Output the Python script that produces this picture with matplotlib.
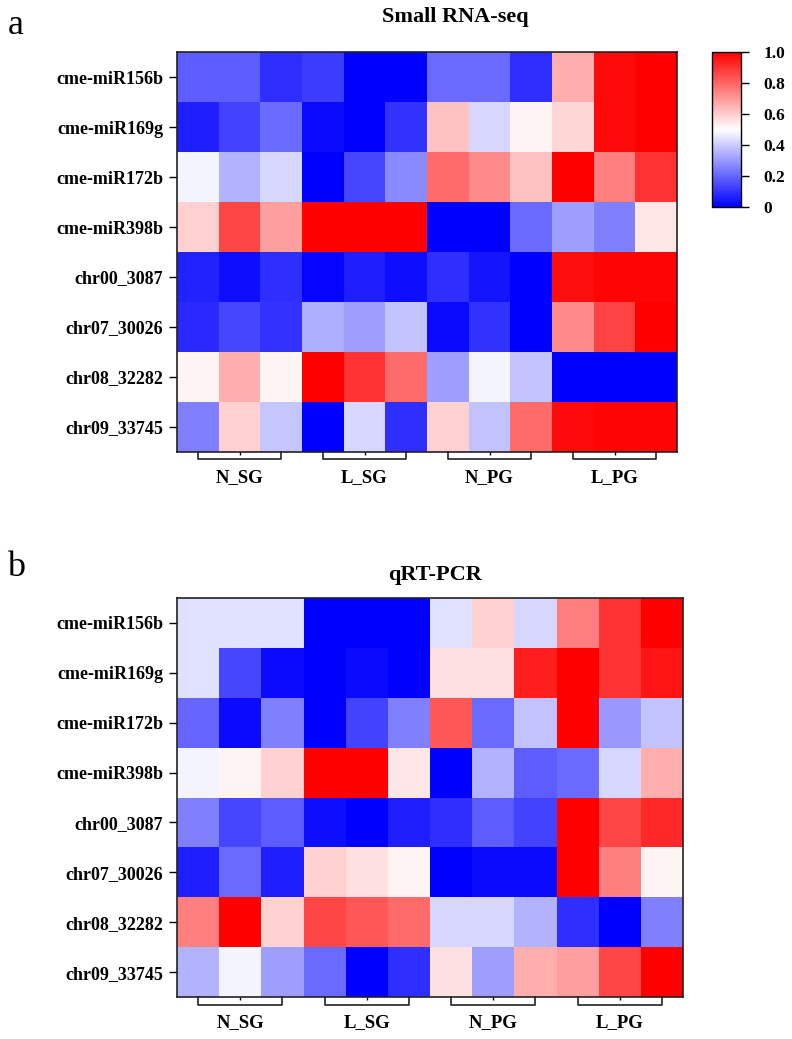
import numpy as np
import matplotlib.pyplot as plt
from matplotlib.colors import LinearSegmentedColormap

plt.rcParams['font.family'] = ['Liberation Serif', 'DejaVu Serif']

genes = ["cme-miR156b", "cme-miR169g", "cme-miR172b", "cme-miR398b",
         "chr00_3087", "chr07_30026", "chr08_32282", "chr09_33745"]
groups = ["N_SG", "L_SG", "N_PG", "L_PG"]

# relative expression, 12 samples (3 per group)
seq_vals = np.array([
    [0.18, 0.18, 0.09, 0.12, 0.00, 0.00, 0.21, 0.21, 0.09, 0.66, 0.98, 1.00],
    [0.06, 0.13, 0.21, 0.02, 0.00, 0.10, 0.62, 0.42, 0.52, 0.58, 0.98, 1.00],
    [0.48, 0.35, 0.42, 0.00, 0.14, 0.27, 0.79, 0.73, 0.62, 1.00, 0.75, 0.90],
    [0.59, 0.86, 0.69, 1.00, 1.00, 1.00, 0.00, 0.00, 0.21, 0.31, 0.25, 0.55],
    [0.07, 0.03, 0.09, 0.01, 0.06, 0.03, 0.09, 0.04, 0.00, 0.97, 0.99, 0.99],
    [0.08, 0.14, 0.10, 0.34, 0.31, 0.38, 0.02, 0.10, 0.00, 0.73, 0.87, 1.00],
    [0.52, 0.66, 0.52, 1.00, 0.90, 0.79, 0.31, 0.48, 0.38, 0.00, 0.00, 0.00],
    [0.25, 0.59, 0.39, 0.00, 0.42, 0.09, 0.59, 0.38, 0.79, 0.98, 0.99, 0.99],
])

pcr_vals = np.array([
    [0.44, 0.44, 0.44, 0.00, 0.00, 0.00, 0.44, 0.59, 0.42, 0.75, 0.90, 1.00],
    [0.44, 0.14, 0.02, 0.00, 0.02, 0.00, 0.56, 0.56, 0.94, 1.00, 0.90, 0.96],
    [0.20, 0.02, 0.25, 0.00, 0.13, 0.25, 0.83, 0.21, 0.38, 1.00, 0.30, 0.38],
    [0.48, 0.52, 0.59, 1.00, 1.00, 0.55, 0.00, 0.35, 0.18, 0.21, 0.42, 0.66],
    [0.25, 0.14, 0.18, 0.03, 0.00, 0.06, 0.09, 0.18, 0.13, 1.00, 0.86, 0.92],
    [0.06, 0.21, 0.06, 0.59, 0.56, 0.52, 0.00, 0.02, 0.02, 1.00, 0.75, 0.52],
    [0.75, 1.00, 0.59, 0.86, 0.83, 0.79, 0.42, 0.42, 0.35, 0.09, 0.00, 0.25],
    [0.35, 0.48, 0.31, 0.21, 0.00, 0.09, 0.56, 0.31, 0.66, 0.69, 0.86, 1.00],
])

cmap = LinearSegmentedColormap.from_list("bwr_", ["#0000ff", "#ffffff", "#ff0000"])

W, H = 792, 1039
fig = plt.figure(figsize=(W / 100, H / 100), dpi=100)


def px_axes(x0, y0, x1, y1):
    return fig.add_axes([x0 / W, 1 - y1 / H, (x1 - x0) / W, (y1 - y0) / H])


def ftext(x, y, s, **kw):
    fig.text(x / W, 1 - y / H, s, ha='center', va='center', **kw)


def draw_heatmap(ax, vals, bracket_depth, label_off):
    mesh = ax.pcolormesh(vals, cmap=cmap, vmin=0, vmax=1)
    nrow, ncol = vals.shape
    ax.set_xlim(0, ncol)
    ax.set_ylim(nrow, 0)
    ax.set_yticks(np.arange(nrow) + 0.5)
    ax.set_yticklabels(genes, fontsize=13, fontweight='bold')
    ax.tick_params(axis='y', length=6, width=1, pad=4)
    ax.set_xticks([1.5, 4.5, 7.5, 10.5])
    ax.set_xticklabels([])
    ax.tick_params(axis='x', length=2.5, width=1)
    for s in ax.spines.values():
        s.set_linewidth(1.2)
        s.set_color('#222222')
    yb = nrow + bracket_depth
    for i, g in enumerate(groups):
        x0 = i * 3 + 0.5
        x1 = i * 3 + 2.5
        ax.plot([x0, x0, x1, x1], [nrow, yb, yb, nrow],
                color='#222222', lw=1.2, clip_on=False)
        ax.text(i * 3 + 1.5, nrow + label_off, g, ha='center',
                va='center', fontsize=13.5, fontweight='bold')
    return mesh


# panel a
ax1 = px_axes(177, 52, 677, 452)
mesh = draw_heatmap(ax1, seq_vals, 0.13, 0.52)
ftext(455, 17, "Small RNA-seq", fontsize=16, fontweight='bold')
ftext(16, 25, "a", fontsize=26)

cax = px_axes(712, 52, 741, 207)
cb = fig.colorbar(mesh, cax=cax)
cb.set_ticks([0, 0.2, 0.4, 0.6, 0.8, 1.0])
cb.set_ticklabels(["0", "0.2", "0.4", "0.6", "0.8", "1.0"])
cb.ax.tick_params(length=6, width=1, labelsize=12.5, pad=10)
for t in cb.ax.get_yticklabels():
    t.set_fontweight('bold')
cb.outline.set_linewidth(1)

# panel b
ax2 = px_axes(177, 598, 683, 997)
draw_heatmap(ax2, pcr_vals, 0.16, 0.52)
ftext(435, 575, "qRT-PCR", fontsize=16, fontweight='bold')
ftext(16, 568, "b", fontsize=26)

fig.savefig("out.png", dpi=100)
